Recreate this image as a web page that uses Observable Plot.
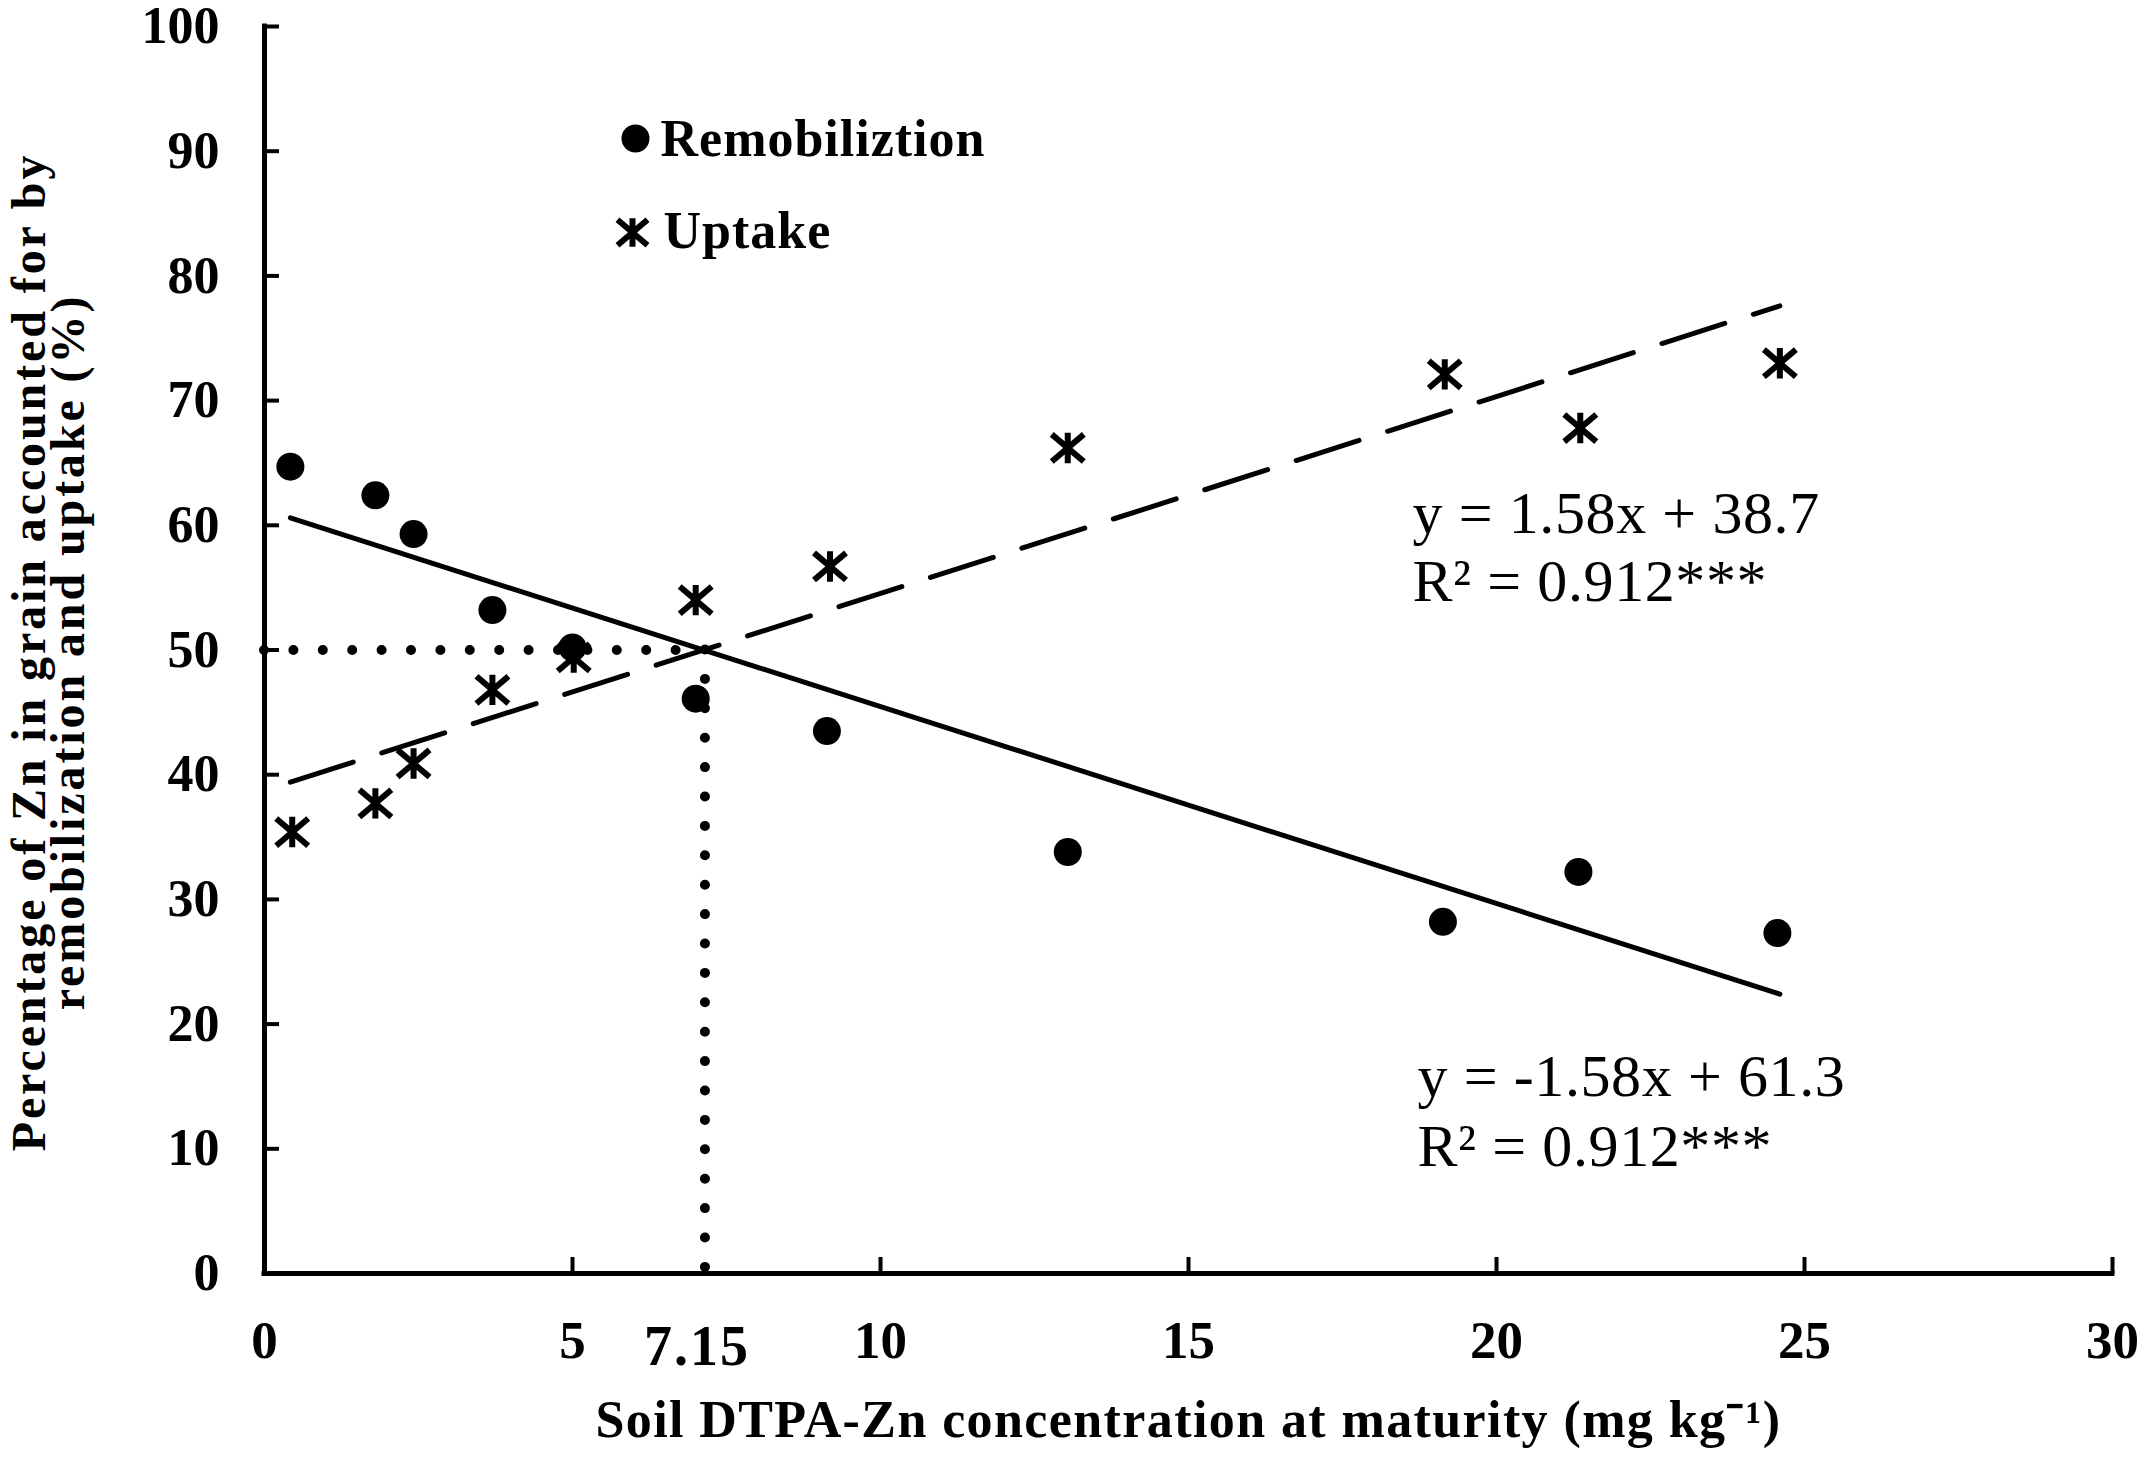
<!DOCTYPE html>
<html><head><meta charset="utf-8">
<script src="https://cdn.jsdelivr.net/npm/d3@7"></script>
<script src="https://cdn.jsdelivr.net/npm/@observablehq/plot@0.6"></script>
<style>
html,body{margin:0;padding:0;background:#fff;}
#chart svg{display:block;}
</style></head><body><div id="chart"></div>
<script>
// ---- data ----
const remobX = [0.42, 1.80, 2.42, 3.70, 5.00, 7.00, 9.13, 13.04, 19.13, 21.33, 24.56];
const remobY = [64.7, 62.4, 59.3, 53.2, 50.2, 46.1, 43.5, 33.8, 28.2, 32.2, 27.3];
const uptakeX = [0.45, 1.80, 2.42, 3.70, 5.02, 7.00, 9.18, 13.04, 19.16, 21.36, 24.60];
const uptakeY = [35.4, 37.7, 40.9, 46.8, 49.4, 54.0, 56.7, 66.2, 72.1, 67.8, 73.0];
const trendX = [0.42, 24.6];
const remobTrendY = [60.6, 22.4];
const uptakeTrendY = [39.4, 77.6];
const guideX = [7.15];
const guideY = [50];
const xTicks = [0, 5, 10, 15, 20, 25, 30];
const yTicks = [0, 10, 20, 30, 40, 50, 60, 70, 80, 90, 100];
const extraXLabel = ["7.15"];
const seriesNames = ["Remobiliztion", "Uptake"];
const eqUptake = ["y = 1.58x + 38.7", "R\u00B2 = 0.912***"];
const eqRemob = ["y = -1.58x + 61.3", "R\u00B2 = 0.912***"];
const xTitle = "Soil DTPA-Zn concentration at maturity (mg kg\u207B\u00B9)";
const yTitle = ["Percentage of Zn in grain accounted for by", "remobilization and uptake (%)"];

const remob = remobX.map((x, i) => ({x, y: remobY[i]}));
const uptake = uptakeX.map((x, i) => ({x, y: uptakeY[i]}));
const remobTrend = trendX.map((x, i) => ({x, y: remobTrendY[i]}));
const uptakeTrend = trendX.map((x, i) => ({x, y: uptakeTrendY[i]}));

const asteriskSym = {
  draw(ctx, size) {
    const r = Math.sqrt(size / Math.PI);
    ctx.moveTo(0, -r * 0.95); ctx.lineTo(0, r * 0.95);
    ctx.moveTo(-r, -r * 0.85); ctx.lineTo(r, r * 0.85);
    ctx.moveTo(-r, r * 0.85); ctx.lineTo(r, -r * 0.85);
  }
};

const FONT = "'Liberation Serif', 'Times New Roman', serif";

const chart = Plot.plot({
  width: 2147, height: 1459,
  marginLeft: 264, marginRight: 35, marginTop: 26, marginBottom: 186,
  x: {domain: [0, 30]},
  y: {domain: [0, 100]},
  style: {fontFamily: FONT, background: "white", color: "black", overflow: "visible"},
  marks: [
    // guide dotted lines
    Plot.ruleY(guideY, {x1: 0, x2: guideX[0], stroke: "black", strokeWidth: 10, strokeDasharray: "0 29.4", strokeLinecap: "round"}),
    Plot.ruleX(guideX, {y1: guideY[0], y2: 0, stroke: "black", strokeWidth: 10, strokeDasharray: "0 29.4", strokeLinecap: "round"}),
    // trend lines
    Plot.line(remobTrend, {x: "x", y: "y", stroke: "black", strokeWidth: 5}),
    Plot.line(uptakeTrend, {x: "x", y: "y", stroke: "black", strokeWidth: 5, strokeDasharray: "66 30"}),
    // points
    Plot.dot(remob, {x: "x", y: "y", r: 14, fill: "black"}),
    Plot.dot(uptake, {x: "x", y: "y", r: 16, symbol: asteriskSym, fill: "none", stroke: "black", strokeWidth: 6}),
    // axes
    Plot.ruleX([0], {y1: 0, y2: 100, stroke: "black", strokeWidth: 5, strokeLinecap: "square"}),
    Plot.ruleY([0], {x1: 0, x2: 30, stroke: "black", strokeWidth: 5, strokeLinecap: "square"}),
    Plot.axisY({ticks: yTicks, tickSize: -15, tickFormat: () => "", strokeWidth: 4, label: null}),
    Plot.axisY({ticks: yTicks, tickSize: 0, tickPadding: 45, fontSize: 52, fontWeight: "bold", label: null}),
    Plot.axisX({ticks: xTicks, tickSize: -16, tickFormat: () => "", strokeWidth: 4, label: null}),
    Plot.axisX({ticks: xTicks, tickSize: 0, tickPadding: 47, fontSize: 53, fontWeight: "bold", label: null}),
    Plot.text(extraXLabel, {x: d => +d, y: () => 0, text: d => d, lineAnchor: "top", dy: 52, dx: -8, fontSize: 56, fontWeight: "bold"}),
    // axis titles
    Plot.text([xTitle], {frameAnchor: "bottom", dy: 147, textAnchor: "middle", lineAnchor: "middle", fontSize: 52, fontWeight: "bold"}),
    Plot.text([yTitle[0]], {frameAnchor: "left", dx: -235, dy: 2, rotate: -90, textAnchor: "middle", lineAnchor: "middle", fontSize: 48, fontWeight: "bold"}),
    Plot.text([yTitle[1]], {frameAnchor: "left", dx: -196, dy: 2, rotate: -90, textAnchor: "middle", lineAnchor: "middle", fontSize: 48, fontWeight: "bold"}),
    // legend
    Plot.dot([seriesNames[0]], {frameAnchor: "top-left", dx: 371, dy: 112, r: 14, fill: "black"}),
    Plot.text([seriesNames[0]], {frameAnchor: "top-left", dx: 396, dy: 113, textAnchor: "start", lineAnchor: "middle", fontSize: 52, fontWeight: "bold"}),
    Plot.dot([seriesNames[1]], {frameAnchor: "top-left", dx: 368, dy: 206, r: 15, symbol: asteriskSym, fill: "none", stroke: "black", strokeWidth: 6}),
    Plot.text([seriesNames[1]], {frameAnchor: "top-left", dx: 399, dy: 205, textAnchor: "start", lineAnchor: "middle", fontSize: 52, fontWeight: "bold"}),
    // equations
    Plot.text([eqUptake[0]], {frameAnchor: "top-left", dx: 1148, dy: 487, textAnchor: "start", lineAnchor: "middle", fontSize: 60}),
    Plot.text([eqUptake[1]], {frameAnchor: "top-left", dx: 1148, dy: 555, textAnchor: "start", lineAnchor: "middle", fontSize: 60}),
    Plot.text([eqRemob[0]], {frameAnchor: "top-left", dx: 1153, dy: 1050, textAnchor: "start", lineAnchor: "middle", fontSize: 60}),
    Plot.text([eqRemob[1]], {frameAnchor: "top-left", dx: 1153, dy: 1120, textAnchor: "start", lineAnchor: "middle", fontSize: 60})
  ]
});

// letter spacing tweaks (style only)
const spacing = new Map([
  [xTitle, "1.4px"],
  [yTitle[0], "2.9px"],
  [yTitle[1], "2.9px"],
  [seriesNames[0], "1px"],
  [seriesNames[1], "1px"],
  [eqUptake[0], "0.6px"], [eqUptake[1], "0.6px"],
  [eqRemob[0], "0.6px"], [eqRemob[1], "0.6px"],
  [extraXLabel[0], "2px"]
]);
d3.select(chart).selectAll("text").each(function() {
  const s = spacing.get(this.textContent);
  if (s) this.style.letterSpacing = s;
});
document.getElementById("chart").appendChild(chart);
</script>
</body></html>
